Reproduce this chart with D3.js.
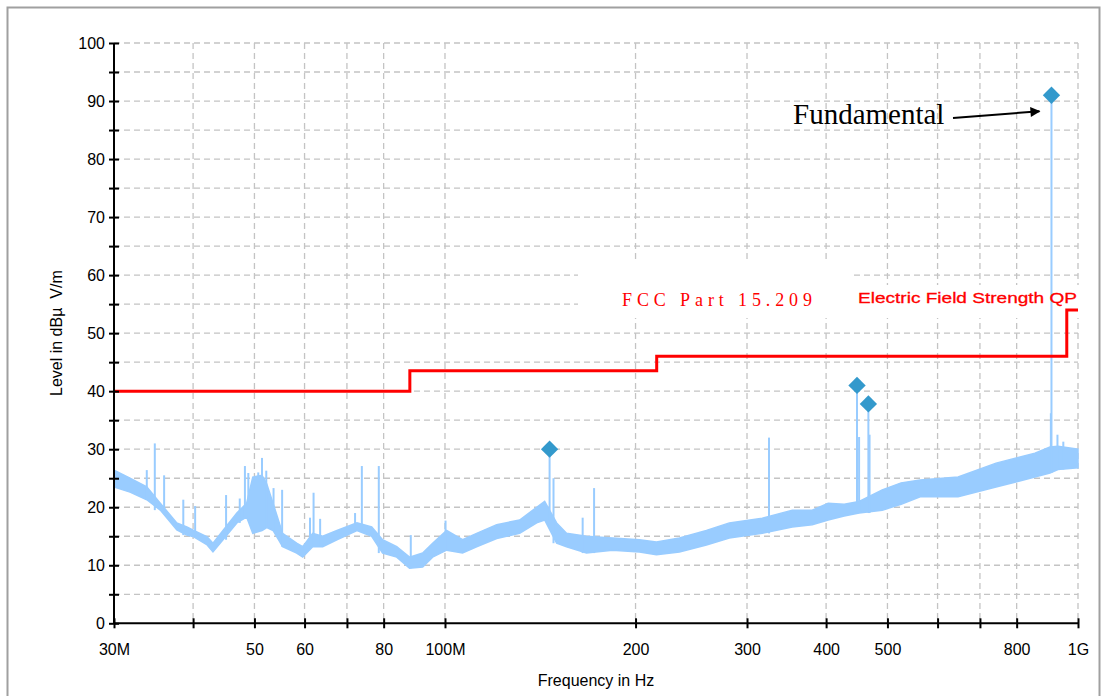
<!DOCTYPE html>
<html>
<head>
<meta charset="utf-8">
<script src="https://cdn.jsdelivr.net/npm/d3@7"></script>
<style>
  body { margin: 0; background: #fff; }
</style>
</head>
<body>
<svg id="chart" width="1103" height="696"></svg>
<script>
const freqMHz = [30, 31.8, 33.8, 35.5, 37.7, 39.1, 40.1, 42.1, 43.0, 44.6, 46.9, 48.6, 49.7, 51.4, 52.3, 53.5,
  55.4, 58.3, 59.6, 61.8, 64.1, 67.5, 72.6, 76.6, 79.7, 83.9, 87.9, 92.2, 95.6, 100.6, 106.6, 112.2, 120.7,
  131.2, 139.6, 143.7, 150.1, 155.6, 167.3, 183.9, 202.9, 215.8, 234.6, 258.8, 281.3, 317.1, 353.7, 380.3,
  403.1, 427.2, 451.1, 490.6, 525.5, 563.2, 646.5, 742.2, 855, 903, 929.7, 1000];
const bandHigh = [26.4, 25, 23.5, 20.7, 17.3, 16.6, 16, 14.9, 13.8, 16, 19, 20.7, 25.2, 25.5, 24, 20.7,
  15.5, 13.8, 13.2, 15.5, 15, 16, 17.3, 16.6, 14.4, 13.2, 11.4, 12.1, 13.8, 16, 14.4, 15.5, 17,
  17.8, 20, 21, 17.3, 15.5, 15, 14.7, 14.4, 14, 14.7, 16, 17.3, 18.1, 19.5, 19.5,
  20.7, 20.5, 21, 23, 24.2, 24.7, 25.2, 27.6, 29.3, 30.4, 30.5, 30];
const bandLow = [23.5, 22.6, 21.3, 19.5, 16.1, 15.2, 14.9, 13.5, 12.3, 14.4, 17.3, 18.3, 15.5, 16, 16.5, 16,
  13.2, 12.1, 11.4, 13.2, 13.2, 14.4, 16, 15, 12.1, 11.4, 9.5, 9.7, 11.4, 12.6, 12.1, 13.2, 14.6,
  15.5, 17.3, 17.8, 13.8, 13.2, 12.1, 12.6, 12.3, 11.8, 12.3, 13.5, 14.7, 15.5, 16.6, 17,
  17.8, 18.5, 19, 19.5, 20.5, 21.8, 21.8, 23.5, 25.2, 25.9, 26.5, 26.8];

const spikeFreq = [30.0, 33.8, 34.8, 36.0, 38.6, 40.3, 45.1, 47.4, 48.3, 48.9, 50.7, 51.4, 52.2, 53.6, 55.3,
  61.2, 62.0, 63.5, 72.1, 73.9, 78.6, 88.3, 100.2, 146.3, 148.4, 165.0, 172, 325, 447.6, 451, 466.5, 468.5,
  906, 908, 928, 948];
const spikeLevel = [28.5, 26.4, 31, 25.5, 21.3, 20.2, 22.1, 21.5, 27.1, 25.9, 26, 28.5, 26.3, 23.3, 23,
  18.2, 22.5, 18, 19, 27.1, 27.1, 15.2, 17.7, 30, 25, 18.2, 23.3, 32, 41, 32.1, 37.8, 32.5,
  36.2, 91, 32.5, 31.3];

const markerFreq = [146.3, 447.6, 466.5, 908];
const markerLevel = [30, 41, 37.8, 91];

// FCC Part 15.209 limit (steps)
const limitFreq = [30, 88, 88, 216, 216, 960, 960, 1000];
const limitLevel = [40, 40, 43.5, 43.5, 46, 46, 54, 54];

const xGridValues = [40, 50, 60, 70, 80, 100, 200, 300, 400, 500, 600, 700, 800, 1000];
const xTickValues = [30, 40, 50, 60, 70, 80, 100, 200, 300, 400, 500, 600, 700, 800, 1000];
const xTickLabels = { 30: "30M", 50: "50", 60: "60", 80: "80", 100: "100M", 200: "200", 300: "300",
  400: "400", 500: "500", 800: "800", 1000: "1G" };
const yTickValues = d3.range(0, 101, 5);
const yLabelValues = d3.range(0, 101, 10);

const sans = "'Liberation Sans', Arial, sans-serif";
const serif = "'Liberation Serif', 'Times New Roman', serif";
const svg = d3.select("#chart").style("font-family", sans);

const x = d3.scaleLog().domain([30, 1000]).range([114, 1078]);
const y = d3.scaleLinear().domain([0, 100]).range([623.3, 43]);

// outer frame
svg.append("rect")
  .attr("x", 7.5).attr("y", 7.5)
  .attr("width", 1092).attr("height", 700)
  .attr("fill", "none").attr("stroke", "#a0a0a0").attr("stroke-width", 2);

// grid
const grid = svg.append("g").attr("stroke", "#c4c4c4").attr("stroke-dasharray", "6,4").attr("stroke-width", 1.3);
grid.selectAll("line.h")
  .data(yTickValues.filter(d => d > 0))
  .enter().append("line")
  .attr("x1", x(30)).attr("x2", x(1000))
  .attr("y1", d => y(d)).attr("y2", d => y(d));
grid.selectAll("line.v")
  .data(xGridValues)
  .enter().append("line")
  .attr("x1", d => x(d)).attr("x2", d => x(d))
  .attr("y1", y(100)).attr("y2", y(0));

// white boxes behind the limit labels
svg.append("rect").attr("x", 578).attr("y", 262).attr("width", 275).attr("height", 56).attr("fill", "#fff");
svg.append("rect").attr("x", 853).attr("y", 285).attr("width", 226).attr("height", 33).attr("fill", "#fff");

// measured trace: noise band
const bandData = freqMHz.map((f, i) => ({ f: f, lo: bandLow[i], hi: bandHigh[i] }));
const area = d3.area()
  .x(d => x(d.f))
  .y0(d => y(d.lo))
  .y1(d => y(d.hi));
svg.append("path")
  .datum(bandData)
  .attr("d", area)
  .attr("fill", "#99ccff")
  .attr("stroke", "#99ccff")
  .attr("stroke-width", 1.5);

// spikes, drawn from the band floor at the nearest sample
const bisect = d3.bisector(d => d).center;
svg.append("g")
  .selectAll("line")
  .data(spikeFreq.map((f, i) => ({ f: f, v: spikeLevel[i] })))
  .enter().append("line")
  .attr("x1", d => x(d.f)).attr("x2", d => x(d.f))
  .attr("y1", d => y(d.v))
  .attr("y2", d => y(bandLow[bisect(freqMHz, d.f)]))
  .attr("stroke", "#99ccff")
  .attr("stroke-width", 2);

// limit line
const limitLine = d3.line()
  .x((d, i) => x(limitFreq[i]))
  .y(d => y(d));
svg.append("path")
  .datum(limitLevel)
  .attr("d", limitLine)
  .attr("fill", "none")
  .attr("stroke", "#ff0000")
  .attr("stroke-width", 3);

// markers
svg.append("g")
  .selectAll("path")
  .data(markerFreq.map((f, i) => ({ f: f, v: markerLevel[i] })))
  .enter().append("path")
  .attr("d", d3.symbol().type(d3.symbolSquare).size(150))
  .attr("transform", d => "translate(" + x(d.f) + "," + y(d.v) + ") rotate(45)")
  .attr("fill", "#3399cc");

// axes
const xAxis = svg.append("g").attr("transform", "translate(0," + y(0) + ")")
  .call(d3.axisBottom(x).tickValues(xTickValues).tickSize(5).tickFormat(d => xTickLabels[d] || ""));
xAxis.select(".domain").attr("d", "M" + x(30) + ",0H" + x(1000)).attr("stroke", "#000").attr("stroke-width", 2);
xAxis.selectAll(".tick line").attr("y1", -5).attr("y2", 5).attr("stroke", "#000").attr("stroke-width", 2);
xAxis.selectAll(".tick text").attr("y", 32).attr("dy", 0)
  .style("font-size", "16px").style("font-family", sans).attr("fill", "#000");

const yAxis = svg.append("g").attr("transform", "translate(" + x(30) + ",0)")
  .call(d3.axisLeft(y).tickValues(yTickValues).tickSize(5)
    .tickFormat(d => yLabelValues.includes(d) ? d : ""));
yAxis.select(".domain").attr("d", "M0," + y(0) + "V" + y(100)).attr("stroke", "#000").attr("stroke-width", 2);
yAxis.selectAll(".tick line").attr("x1", -5).attr("x2", 5).attr("stroke", "#000").attr("stroke-width", 2);
yAxis.selectAll(".tick text").attr("x", -9)
  .style("font-size", "16px").style("font-family", sans).attr("fill", "#000");

// axis titles
svg.append("text")
  .attr("x", (x(30) + x(1000)) / 2).attr("y", 686)
  .attr("text-anchor", "middle").style("font-size", "16px")
  .text("Frequency in Hz");
svg.append("text")
  .attr("transform", "translate(62," + (y(0) + y(100)) / 2 + ") rotate(-90)")
  .attr("text-anchor", "middle").style("font-size", "16px")
  .attr("xml:space", "preserve")
  .text("Level in dBµ  V/m");

// limit labels
svg.append("text")
  .attr("x", 622).attr("y", 306)
  .style("font-family", serif)
  .style("font-size", "18px").attr("fill", "#ff0000")
  .attr("textLength", 190).attr("lengthAdjust", "spacing")
  .text("FCC Part 15.209");
svg.append("text")
  .attr("x", 858).attr("y", 303)
  .style("font-size", "15px").attr("fill", "#ff0000")
  .attr("stroke", "#ff0000").attr("stroke-width", 0.3)
  .attr("textLength", 219).attr("lengthAdjust", "spacingAndGlyphs")
  .text("Electric Field Strength QP");

// annotation
svg.append("defs").append("marker")
  .attr("id", "arrow").attr("viewBox", "0 0 10 10")
  .attr("refX", 9).attr("refY", 5)
  .attr("markerWidth", 7).attr("markerHeight", 5)
  .attr("markerUnits", "strokeWidth")
  .attr("orient", "auto")
  .append("path").attr("d", "M0,0L10,5L0,10Z").attr("fill", "#000");

svg.append("text")
  .attr("x", 793).attr("y", 124)
  .style("font-family", serif)
  .style("font-size", "29px")
  .text("Fundamental");
svg.append("line")
  .attr("x1", 953).attr("y1", 118)
  .attr("x2", x(908) - 12).attr("y2", y(91) + 16)
  .attr("stroke", "#000").attr("stroke-width", 2)
  .attr("marker-end", "url(#arrow)");
</script>
</body>
</html>
